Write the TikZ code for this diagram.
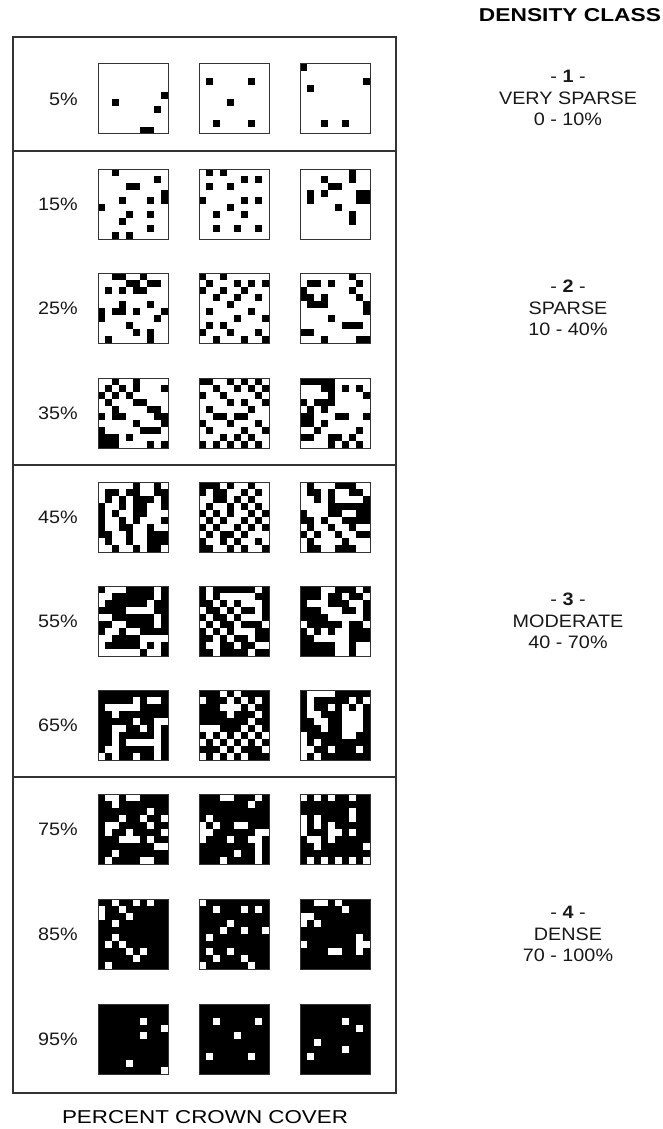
\documentclass[tikz,border=0pt]{standalone}
\usepackage{fontspec}
\usepackage{graphicx}
\setmainfont{Liberation Sans}
\newcommand\hs[1]{\scalebox{1.1}[1]{#1}}
\newcommand\patsq[6]{%
  \node[sqbox, fill=#4] (#1) at (#2+35,#3+35) {};
  \foreach \cc/\rr in {#6} \fill[#5] (#2+\cc*7,#3+\rr*7) rectangle ++(7,7);
  \draw[sqline] (#1.north west) rectangle (#1.south east);
}
\tikzset{
  sqbox/.style={minimum size=70pt, inner sep=0pt, outer sep=0pt},
  sqline/.style={line width=1pt, draw=black!80},
  frameline/.style={line width=1.3pt, draw=black!80},
  lab/.style={font=\fontsize{18}{21.7}\selectfont, inner sep=0pt, text=black!90},
}
\begin{document}
\begin{tikzpicture}[x=1pt,y=-1pt]
\useasboundingbox (0,0) rectangle (662,1129);
% frame
\draw[frameline] (13,37) rectangle (396,1093);
\draw[frameline] (13,151) -- (396,151);
\draw[frameline] (13,465) -- (396,465);
\draw[frameline] (13,777) -- (396,777);
% header and footer
\node[inner sep=0pt] (hdr) at (570,15) {\resizebox{182pt}{13pt}{\bfseries DENSITY CLASS}};
\node[inner sep=0pt] (ftr) at (205,1117) {\resizebox{286pt}{13pt}{PERCENT CROWN COVER}};
% class labels
\node[lab, align=center] (cls1) at (568,98) {\hs{- \textbf{1} -}\\\hs{VERY SPARSE}\\\hs{0 - 10\%}};
\node[lab, align=center] (cls2) at (568,308) {\hs{- \textbf{2} -}\\\hs{SPARSE}\\\hs{10 - 40\%}};
\node[lab, align=center] (cls3) at (568,621) {\hs{- \textbf{3} -}\\\hs{MODERATE}\\\hs{40 - 70\%}};
\node[lab, align=center] (cls4) at (568,934) {\hs{- \textbf{4} -}\\\hs{DENSE}\\\hs{70 - 100\%}};
% row labels
\node[lab, anchor=east] (l05) at (78,99) {\hs{5\%}};
\node[lab, anchor=east] (l15) at (78,204) {\hs{15\%}};
\node[lab, anchor=east] (l25) at (78,308) {\hs{25\%}};
\node[lab, anchor=east] (l35) at (78,413) {\hs{35\%}};
\node[lab, anchor=east] (l45) at (78,517) {\hs{45\%}};
\node[lab, anchor=east] (l55) at (78,621) {\hs{55\%}};
\node[lab, anchor=east] (l65) at (78,725) {\hs{65\%}};
\node[lab, anchor=east] (l75) at (78,829) {\hs{75\%}};
\node[lab, anchor=east] (l85) at (78,934) {\hs{85\%}};
\node[lab, anchor=east] (l95) at (78,1039) {\hs{95\%}};
% 5%
\patsq{a1}{98}{64}{white}{black}{9/4,2/5,8/6,6/9,7/9}
\patsq{a2}{199}{64}{white}{black}{1/2,7/2,4/5,2/8,7/8}
\patsq{a3}{300}{64}{white}{black}{0/0,1/3,9/2,3/8,6/8}
% 15%
\patsq{b1}{98}{169}{white}{black}{2/0,8/1,4/2,5/2,9/3,9/4,3/4,7/4,0/5,4/6,7/6,3/7,7/8,2/9,4/9}
\patsq{b2}{199}{169}{white}{black}{1/0,3/0,6/1,8/1,1/2,4/2,0/4,6/4,8/4,4/5,2/6,6/6,2/8,5/8,8/8}
\patsq{b3}{300}{169}{white}{black}{7/0,3/1,7/1,4/2,5/2,1/3,3/3,8/3,9/3,1/4,8/4,9/4,5/5,7/6,7/7}
% 25%
\patsq{c1}{98}{273}{white}{black}{2/0,3/0,6/0,4/1,5/1,7/1,8/1,1/2,3/2,5/2,6/2,3/4,7/4,0/5,2/5,3/5,5/5,9/5,0/6,8/6,4/7,5/8,7/8,1/9,7/9}
\patsq{c2}{199}{273}{white}{black}{0/0,3/0,1/1,5/1,7/1,9/1,0/2,3/2,6/2,2/3,5/3,8/3,4/4,1/5,7/5,5/6,9/6,1/7,3/7,0/8,4/8,8/8,2/9,6/9,9/9}
\patsq{c3}{300}{273}{white}{black}{7/0,1/1,2/1,4/1,8/1,0/2,7/2,0/3,1/3,3/3,8/3,1/4,2/4,3/4,9/4,9/5,4/6,6/7,7/7,8/7,0/8,1/8,3/9,8/9,9/9}
% 35%
\patsq{d1}{98}{378}{white}{black}{2/0,5/0,1/1,3/1,5/1,9/1,0/2,2/2,4/2,1/3,5/3,6/3,2/4,7/4,8/4,0/5,2/5,3/5,8/5,9/5,5/6,9/6,0/7,6/7,7/7,8/7,0/8,1/8,2/8,4/8,0/9,1/9,2/9,7/9,9/9}
\patsq{d2}{199}{378}{white}{black}{0/0,1/0,4/0,6/0,8/0,2/1,5/1,7/1,9/1,0/2,3/2,8/2,4/3,6/3,9/3,1/4,7/4,2/5,3/5,5/5,6/5,0/6,4/6,8/6,1/7,6/7,9/7,3/8,5/8,7/8,0/9,2/9,4/9,6/9,8/9}
\patsq{d3}{300}{378}{white}{black}{0/0,1/0,2/0,3/0,4/0,3/1,4/1,6/1,8/1,4/2,9/2,0/3,2/3,3/3,4/3,1/4,3/4,0/5,1/5,5/5,6/5,9/5,0/6,1/6,3/6,2/7,8/7,0/8,1/8,4/8,5/8,7/8,4/9,6/9,8/9}
% 45%
\patsq{e1}{98}{482}{white}{black}{5/0,8/0,1/1,2/1,4/1,5/1,8/1,9/1,1/2,3/2,5/2,6/2,7/2,9/2,0/3,3/3,5/3,6/3,9/3,0/4,2/4,5/4,6/4,0/5,3/5,5/5,9/5,0/6,3/6,4/6,7/6,0/7,1/7,4/7,7/7,8/7,9/7,1/8,4/8,7/8,8/8,9/8,2/9,5/9,7/9,8/9}
\patsq{e2}{199}{482}{white}{black}{0/0,1/0,2/0,4/0,7/0,0/1,2/1,3/1,6/1,8/1,2/2,3/2,5/2,7/2,1/3,4/3,6/3,8/3,0/4,2/4,4/4,7/4,9/4,1/5,3/5,6/5,8/5,0/6,2/6,5/6,7/6,9/6,1/7,3/7,4/7,6/7,0/8,3/8,5/8,8/8,0/9,1/9,4/9,6/9,9/9}
\patsq{e3}{300}{482}{white}{black}{1/0,5/0,6/0,7/0,1/1,2/1,4/1,7/1,8/1,2/2,4/2,9/2,4/3,5/3,6/3,7/3,8/3,9/3,0/4,4/4,5/4,8/4,9/4,0/5,1/5,3/5,6/5,7/5,8/5,9/5,1/6,4/6,7/6,0/7,2/7,5/7,8/7,9/7,1/8,6/8,1/9,2/9,5/9,6/9,7/9}
% 55%
\patsq{f1}{98}{586}{black}{white}{1/0,2/0,3/0,8/0,0/1,1/1,8/1,0/2,7/2,4/3,5/3,6/3,7/3,0/4,1/4,8/4,2/5,3/5,8/5,1/6,2/6,4/6,5/6,0/7,1/7,6/7,7/7,8/7,9/7,0/8,6/8,8/8,0/9,1/9,2/9,3/9,4/9,5/9,7/9,8/9}
\patsq{f2}{199}{586}{black}{white}{1/0,8/0,1/1,3/1,4/1,5/1,6/1,7/1,2/2,4/2,6/2,7/2,8/2,0/3,3/3,5/3,8/3,1/4,4/4,6/4,7/4,8/4,0/5,2/5,5/5,9/5,1/6,3/6,5/6,6/6,7/6,2/7,4/7,7/7,1/8,2/8,5/8,8/8,9/8,2/9,7/9}
\patsq{f3}{300}{586}{black}{white}{3/0,4/0,8/0,3/1,6/1,9/1,1/2,2/2,3/2,7/2,8/2,3/3,4/3,5/3,8/3,4/4,5/4,6/4,7/4,8/4,0/5,6/5,9/5,1/6,3/6,5/6,6/6,2/7,3/7,4/7,5/7,6/7,5/8,6/8,8/8,9/8,5/9,6/9,8/9,9/9}
% 65%
\patsq{g1}{98}{690}{black}{white}{5/1,7/1,8/1,1/2,2/2,3/2,4/2,5/2,2/3,5/4,8/4,9/4,2/5,3/5,6/5,8/5,2/6,8/6,2/7,4/7,5/7,6/7,7/7,8/7,1/8,2/8,8/8,0/9,2/9,5/9,8/9}
\patsq{g2}{199}{690}{black}{white}{3/0,5/0,0/1,4/1,6/1,8/1,3/2,4/2,5/2,7/2,4/3,8/3,7/4,0/5,1/5,2/5,6/5,8/5,1/6,3/6,5/6,7/6,9/6,0/7,2/7,4/7,6/7,8/7,3/8,5/8,9/8,0/9,2/9,4/9,6/9}
\patsq{g3}{300}{690}{black}{white}{1/0,2/0,3/0,4/0,1/1,7/1,9/1,1/2,4/2,6/2,8/2,1/3,2/3,6/3,7/3,8/3,2/4,3/4,6/4,7/4,8/4,3/5,6/5,7/5,8/5,0/6,6/6,7/6,0/7,2/7,0/8,1/8,4/8,8/8,0/9,2/9}
% 75%
\patsq{h1}{98}{794}{black}{white}{1/0,2/0,4/0,5/0,2/1,7/2,3/3,6/3,9/3,1/4,2/4,7/4,1/5,4/5,9/5,3/6,4/6,5/6,7/6,8/7,9/7,2/8,1/9,6/9,7/9}
\patsq{h2}{199}{794}{black}{white}{3/0,4/0,8/0,7/1,1/3,0/4,2/4,5/4,6/4,0/5,1/5,8/5,9/5,0/6,4/6,7/6,8/6,8/7,5/8,8/8,3/9,8/9}
\patsq{h3}{300}{794}{black}{white}{0/0,2/0,4/0,7/0,7/2,0/3,2/3,7/3,0/4,2/4,4/4,0/5,4/5,5/5,7/5,1/6,2/6,4/6,2/7,9/7,1/9,3/9,5/9,7/9,9/9}
% 85%
\patsq{i1}{98}{899}{black}{white}{2/0,5/0,7/0,0/1,3/1,0/2,4/2,2/3,2/5,1/6,3/6,4/7,6/7,5/8,1/9}
\patsq{i2}{199}{899}{black}{white}{0/0,2/1,6/1,8/1,4/3,3/4,6/4,9/4,1/5,1/7,4/7,2/8,6/8,0/9,7/9}
\patsq{i3}{300}{899}{black}{white}{2/0,3/0,5/0,6/1,0/2,1/2,0/3,2/3,8/5,0/6,8/6,9/6,4/7,5/7,8/7}
% 95%
\patsq{j1}{98}{1004}{black}{white}{6/2,9/3,6/4,4/8,9/9}
\patsq{j2}{199}{1004}{black}{white}{2/2,8/2,5/4,1/7,7/7}
\patsq{j3}{300}{1004}{black}{white}{6/2,8/3,2/5,6/6,1/7}
\end{tikzpicture}
\end{document}
